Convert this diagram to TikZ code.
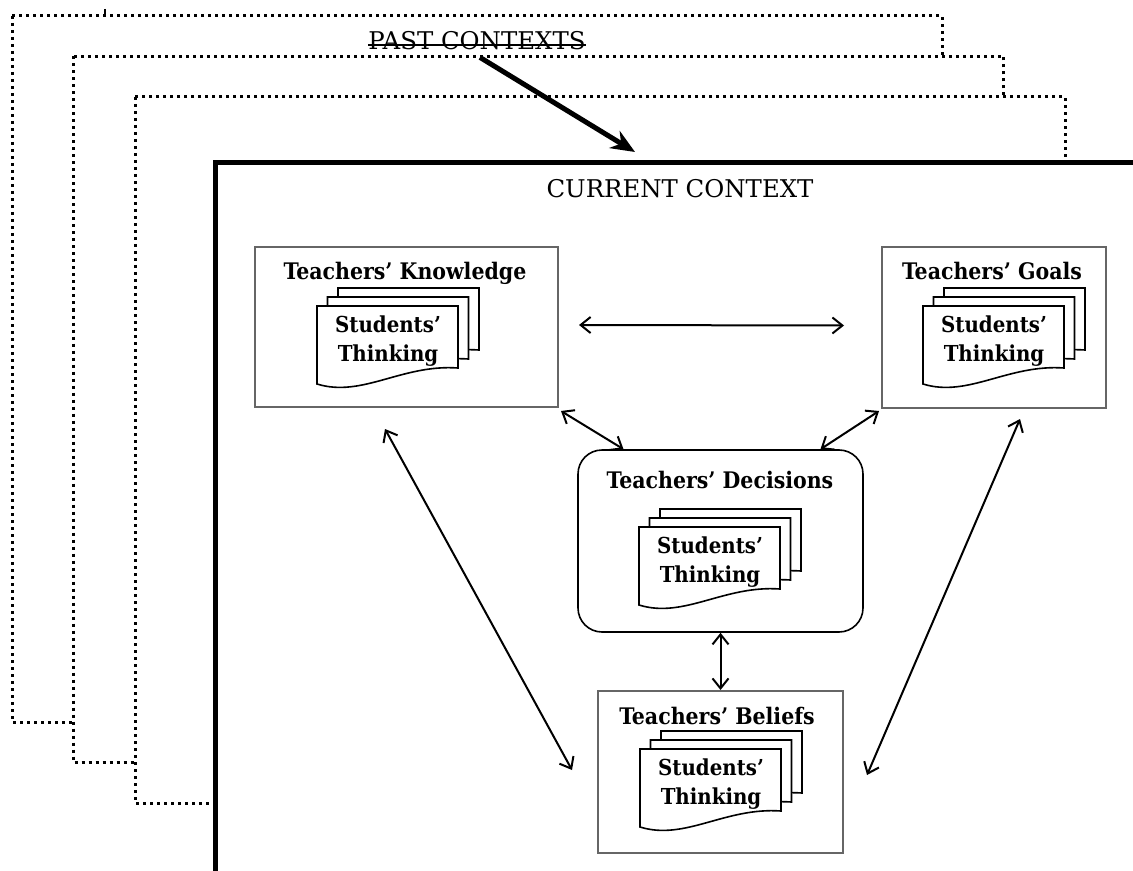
\documentclass[tikz,border=0pt]{standalone}
\usepackage{fontspec}
\setmainfont{DejaVu Serif}
\newfontfamily\condfont[Ligatures=TeX]{DejaVu Serif Condensed}
\usetikzlibrary{arrows.meta}

\begin{document}
\begin{tikzpicture}[
        x=0.5pt, y=-0.5pt,
        past/.style={draw, fill=white, line width=1.5pt, dash pattern=on 1.5pt off 2pt},
        context/.style={draw, fill=white, line width=2.5pt},
        frame/.style={draw=black!60, line width=1pt, fill=white},
        choice/.style={draw, line width=0.8pt, rounded corners=12pt, fill=white},
        sheet/.style={draw, line width=0.8pt, fill=white},
        label/.style={font=\fontsize{12.2}{14}\selectfont, anchor=base},
        title/.style={font=\condfont\bfseries\fontsize{11.4}{13}\selectfont, anchor=base},
        stu/.style={font=\condfont\bfseries\fontsize{11}{14.5}\selectfont, align=center},
        link/.style={<->, >={Straight Barb[length=5pt,width=8pt]}, line width=1pt},
        push/.style={-{Stealth[length=12pt,width=10pt]}, line width=2.5pt},
        pics/papers/.style={code={
            \foreach \d in {2,1,0}
                \draw[sheet, shift={(\d*10.5-71,-\d*9-35)}] (0,0) -- (141,0) -- (141,62) .. controls (85,58) and (45,92) .. (0,78) -- cycle;
        }}
    ]
    \useasboundingbox (0,0) rectangle (1133,871);

    \foreach \i in {0,1,2}
        \draw[past, shift={(\i*61.5,\i*40.5)}] (12,16) rectangle (942,722);
    \draw[line width=0.8pt] (105,9) -- (105,16);

    \node[label, inner xsep=0pt] (past) at (477,50) {PAST CONTEXTS};
    \draw[line width=0.8pt] ([yshift=2.5pt]past.base west) -- ([yshift=2.5pt]past.base east);
    \coordinate (tip) at (635,152);
    \draw[push] ([xshift=1.5pt]past.south) -- (tip);

    \draw[context] (215,163) rectangle (1150,890);
    \node[label] (cur) at (680,198) {CURRENT CONTEXT};

    \node[frame, minimum width=151.5pt, minimum height=80pt] (know) at (406.5,327) {};
    \node[frame, minimum width=112pt, minimum height=80.5pt] (goals) at (994,327.5) {};
    \node[choice, minimum width=142.5pt, minimum height=91pt] (dec) at (720.5,541) {};
    \node[frame, minimum width=122.5pt, minimum height=81pt] (bel) at (720.5,772) {};

    \node[title] (knowt) at (405,280) {Teachers' Knowledge};
    \node[title] (goalst) at (992,280) {Teachers' Goals};
    \node[title] (dect) at (720,488) {Teachers' Decisions};
    \node[title] (belt) at (717,724) {Teachers' Beliefs};

    \pic at (388,341) {papers};
    \pic at (994,341) {papers};
    \pic at (710,562) {papers};
    \pic at (711,784) {papers};
    \node[stu] (knows) at (388,341) {Students'\\Thinking};
    \node[stu] (goalss) at (994,341) {Students'\\Thinking};
    \node[stu] (decs) at (710,562) {Students'\\Thinking};
    \node[stu] (bels) at (711,784) {Students'\\Thinking};

    \draw[link] ([xshift=10pt,yshift=1pt]know.east) -- ([xshift=-18.5pt,yshift=1pt]goals.west);
    \draw[link] ([xshift=1pt,yshift=-1.5pt]know.south east) -- ([xshift=-48.5pt]dec.north);
    \draw[link] ([xshift=-1pt,yshift=-1pt]goals.south west) -- ([xshift=50pt]dec.north);
    \draw[link] (dec.south) -- (bel.north);
    \draw[link] ([xshift=-10.75pt,yshift=-10.5pt]know.south) -- ([xshift=-12.5pt,yshift=1pt]bel.west);
    \draw[link] ([xshift=13pt,yshift=-5pt]goals.south) -- ([xshift=11.5pt,yshift=-1.5pt]bel.east);

\end{tikzpicture}
\end{document}
